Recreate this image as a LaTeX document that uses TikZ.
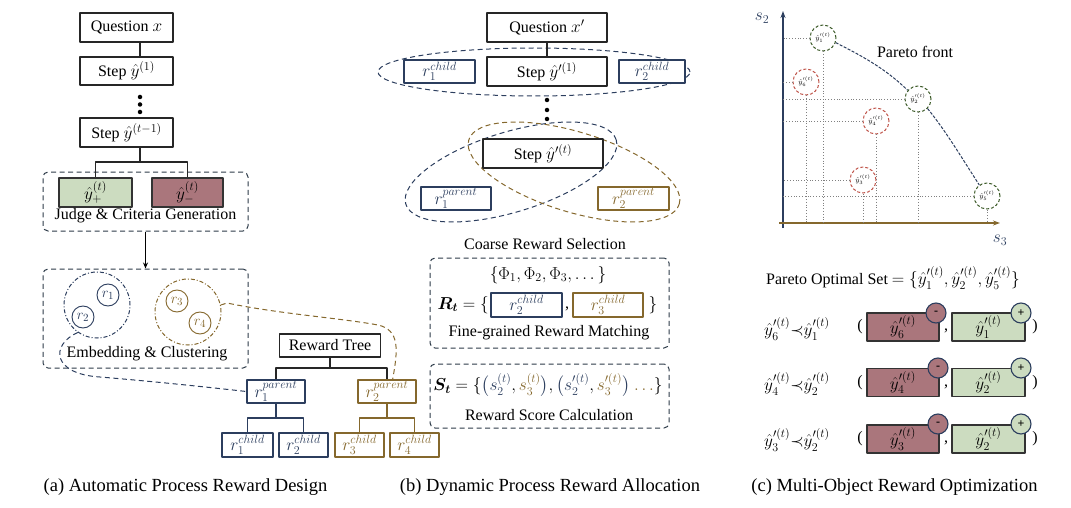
\documentclass[tikz,border=0pt]{standalone}
\usepackage{fontspec}
\setmainfont{Liberation Serif}
\usepackage{amsmath}
\usepackage{bm}
\DeclareMathSizes{16}{16.5}{13}{10}
\DeclareMathSizes{13}{13.5}{10.5}{8}
\DeclareMathSizes{7}{7}{5.5}{5}
\usetikzlibrary{arrows.meta}
\definecolor{navy}{RGB}{44,62,94}
\definecolor{brn}{RGB}{133,104,45}
\definecolor{gfill}{RGB}{204,220,192}
\definecolor{rfill}{RGB}{170,118,124}
\definecolor{dgreen}{RGB}{62,92,42}
\definecolor{dred}{RGB}{192,86,76}
\definecolor{slate}{RGB}{44,58,72}
\begin{document}
\begin{tikzpicture}[x=1pt,y=-1pt,line join=round,
  every node/.style={font=\fontsize{16}{19}\selectfont},
  wh/.style 2 args={minimum width=#1pt,minimum height=#2pt},
  bx/.style={draw=black!85,line width=1.2pt,inner sep=0pt,fill=white},
  nbx/.style={draw=navy,line width=1.1pt,inner sep=0pt,fill=white,text=navy},
  bbx/.style={draw=brn,line width=1.1pt,inner sep=0pt,fill=white,text=brn},
  gbx/.style={draw=black!80,line width=1.2pt,inner sep=0pt,fill=gfill},
  rbx/.style={draw=black!80,line width=1.2pt,inner sep=0pt,fill=rfill},
  dbox/.style={draw=slate,line width=1pt,rounded corners=5pt,dash pattern=on 5pt off 3.5pt,inner sep=0pt},
  dotn/.style={circle,fill=black,inner sep=0pt,minimum size=4.5pt},
  conn/.style={line width=1.2pt,draw=black!85},
  nconn/.style={line width=1.1pt,draw=navy},
  bconn/.style={line width=1.1pt,draw=brn},
  smalltxt/.style={font=\fontsize{13}{14}\selectfont},
  captxt/.style={font=\fontsize{18.5}{21}\selectfont},
  ptc/.style={circle,inner sep=0pt,minimum size=26pt,line width=1pt,dash pattern=on 3pt off 2pt,font=\fontsize{7}{7}\selectfont},
  guide/.style={draw=black!50,line width=0.8pt,dotted},
  sgn/.style={circle,draw=navy,line width=1.1pt,inner sep=0pt,minimum size=20pt,font=\bfseries\fontsize{12}{12}\selectfont}
]
\useasboundingbox (0,0) rectangle (1071,508);

% ================= panel (a) =================
\node[bx,wh={93}{29}] (qa) at (126.5,27.5) {Question $x$};
\node[bx,wh={93}{28}] (s1a) at (126.5,71) {Step $\hat{y}^{(1)}$};
\node[dotn] (da1) at (140,97) {};
\node[dotn] (da2) at (140,104.5) {};
\node[dotn] (da3) at (140,112) {};
\node[bx,wh={93}{29}] (s2a) at (126.5,132.5) {Step $\hat{y}^{(t-1)}$};
\draw[conn] (qa.south -| da1) -- (s1a.north -| da1);
\coordinate (bra) at (140,162);
\node[dbox,wh={205}{59}] (jb) at (145.5,201.5) {};
\node[gbx,wh={73}{29}] (gp) at (95.5,192.5) {$\hat{y}^{(t)}_{+}$};
\node[rbx,wh={71}{29}] (gm) at (187.5,192.5) {$\hat{y}^{(t)}_{-}$};
\draw[conn] (s2a.south -| bra) -- (bra);
\draw[conn] (bra) -| (gp.north);
\draw[conn] (bra) -| (gm.north);
\node (jt) at (145.5,216) {Judge \& Criteria Generation};

\node[dbox,wh={205}{99}] (eb) at (145.5,318.5) {};
\draw[line width=1.1pt,-{Stealth[length=6pt,width=5pt]}] (jb.south) -- (eb.north);
\node[circle,draw=navy,line width=1pt,dash pattern=on 4pt off 2pt on 1pt off 2pt,minimum size=66pt,inner sep=0pt] (bc) at (97,305) {};
\node[circle,draw=brn,line width=1pt,dash pattern=on 4pt off 2pt on 1pt off 2pt,minimum size=66pt,inner sep=0pt] (brc) at (188,312) {};
\node[circle,draw=navy,text=navy,line width=0.9pt,minimum size=22pt,inner sep=0pt,smalltxt] (r1) at (108,295) {$r_1$};
\node[circle,draw=navy,text=navy,line width=0.9pt,minimum size=22pt,inner sep=0pt,smalltxt] (r2) at (83,317) {$r_2$};
\node[circle,draw=brn,text=brn,line width=0.9pt,minimum size=22pt,inner sep=0pt,smalltxt] (r3) at (177,301) {$r_3$};
\node[circle,draw=brn,text=brn,line width=0.9pt,minimum size=22pt,inner sep=0pt,smalltxt] (r4) at (200,323) {$r_4$};
\node (et) at (147,354) {Embedding \& Clustering};

% reward tree
\node[bx,wh={101}{23}] (rt) at (330,345.5) {Reward Tree};
\node[nbx,wh={58}{23}] (r1p) at (276,391.5) {$r_1^{parent}$};
\node[bbx,wh={58}{23}] (r2p) at (387,391.5) {$r_2^{parent}$};
\node[nbx,wh={51}{24}] (r1c) at (247.5,445) {$r_1^{child}$};
\node[nbx,wh={49}{24}] (r2c) at (303.5,445) {$r_2^{child}$};
\node[bbx,wh={49}{24}] (r3c) at (359.5,445) {$r_3^{child}$};
\node[bbx,wh={49}{24}] (r4c) at (414.5,445) {$r_4^{child}$};
\coordinate (bar1) at (330,368);
\coordinate (bar2) at (276,418);
\coordinate (bar3) at (387,418);
\draw[conn] (rt.south) -- (bar1);
\draw[conn] (bar1) -| (r1p.north);
\draw[conn] (bar1) -| (r2p.north);
\draw[nconn] (r1p.south) -- (bar2);
\draw[nconn] (bar2) -| (r1c.north);
\draw[nconn] (bar2) -| (r2c.north);
\draw[bconn] (r2p.south) -- (bar3);
\draw[bconn] (bar3) -| (r3c.north);
\draw[bconn] (bar3) -| (r4c.north);

% cluster -> tree dashed links
\draw[navy,line width=1pt,dash pattern=on 5pt off 3.5pt] (bc.235) .. controls (50,345) and (52,374) .. (100,377) .. controls (160,382) and (215,388) .. (r1p.west);
\draw[brn,line width=1pt,dash pattern=on 5pt off 3.5pt] (brc.12) -- (227,303) .. controls (280,314) and (340,318) .. (378,325) .. controls (400,330) and (398,350) .. (r2p.65);

% ================= panel (b) =================
\draw[navy,line width=1pt,dash pattern=on 5pt off 3.5pt] (534,72) ellipse [x radius=156pt,y radius=24pt];
\draw[navy,line width=1pt,dash pattern=on 5pt off 3.5pt,rotate around={17:(511,172)}] (511,172) ellipse [x radius=110pt,y radius=40pt];
\draw[brn,line width=1pt,dash pattern=on 5pt off 3.5pt,rotate around={-17:(574,172)}] (574,172) ellipse [x radius=110pt,y radius=40pt];
\node[bx,wh={120}{29}] (qb) at (547,27.5) {Question $x'$};
\node[bx,wh={120}{29}] (s1b) at (547,71.5) {Step $\hat{y}'^{(1)}$};
\node[nbx,wh={71}{23}] (r1cb) at (439.5,71.5) {$r_1^{child}$};
\node[nbx,wh={66}{23}] (r2cb) at (652,71.5) {$r_2^{child}$};
\draw[conn] (qb) -- (s1b);
\node[dotn] (db1) at (547,100) {};
\node[dotn] (db2) at (547,110) {};
\node[dotn] (db3) at (547,119) {};
\node[bx,wh={120}{29}] (s2b) at (543,153.5) {Step $\hat{y}'^{(t)}$};
\node[nbx,wh={70}{23}] (r1pb) at (456,198.5) {$r_1^{parent}$};
\node[bbx,wh={71}{23}] (r2pb) at (633.5,198.5) {$r_2^{parent}$};
\node (crs) at (545,244) {Coarse Reward Selection};

\node[dbox,wh={239}{90}] (fb) at (549.5,303) {};
\node (phi) at (548,275) {$\{\Phi_1,\Phi_2,\Phi_3,\dots\}$};
\node[anchor=east,inner sep=0pt] (rt2) at (489,305) {$\bm{R_t}=\{$};
\node[nbx,wh={71}{24}] (r2cf) at (526.5,305) {$r_2^{child}$};
\node[inner sep=0pt] (cm1) at (567,309) {,};
\node[bbx,wh={70}{24}] (r3cf) at (608,305) {$r_3^{child}$};
\node[inner sep=0pt] (cb1) at (653,305) {$\}$};
\node (frm) at (549,333) {Fine-grained Reward Matching};

\node[dbox,wh={239}{64}] (sb) at (549.5,396) {};
\node (st) at (548,385) {$\bm{S_t}=\{\textcolor{navy}{\big(}\textcolor{navy}{s_2^{(t)}},\textcolor{brn}{s_3^{(t)}}\textcolor{navy}{\big)},\textcolor{navy}{\big(}\textcolor{navy}{s_2'^{(t)}},\textcolor{brn}{s_3'^{(t)}}\textcolor{navy}{\big)}\ \textcolor{brn}{\dots}\}$};
\node (rsc) at (549,415) {Reward Score Calculation};

% ================= panel (c) =================
\coordinate (yax) at (783,0);
\coordinate (xax) at (0,223);
\draw[navy,line width=1.3pt,-{Stealth[length=7pt,width=5pt]}] (783,228) -- (783,11);
\draw[brn,line width=1.3pt,-{Stealth[length=7pt,width=5pt]}] (779,223) -- (1000,223);
\node[navy] (s2l) at (762,18) {$s_2$};
\node[navy] (s3l) at (1000,240) {$s_3$};

\node[ptc,draw=dgreen] (p1) at (823,38) {$\hat{y}'^{(t)}_1$};
\node[ptc,draw=dred] (p6) at (806,82) {$\hat{y}'^{(t)}_6$};
\node[ptc,draw=dgreen] (p2) at (918,99) {$\hat{y}'^{(t)}_2$};
\node[ptc,draw=dred] (p4) at (876,121) {$\hat{y}'^{(t)}_4$};
\node[ptc,draw=dred] (p3) at (863,180) {$\hat{y}'^{(t)}_3$};
\node[ptc,draw=dgreen] (p5) at (987,196) {$\hat{y}'^{(t)}_5$};
\foreach \p in {p1,p6,p2,p4,p3,p5}{
  \draw[guide] (\p.west) -- (\p.west -| yax);
  \draw[guide] (\p.south) -- (\p.south |- xax);
}
\draw[navy,line width=1pt,dash pattern=on 3pt off 1.5pt] (p1.-20) .. controls (860,55) and (885,68) .. (p2.140);
\draw[navy,line width=1pt,dash pattern=on 3pt off 1.5pt] (p2.-45) .. controls (945,130) and (960,155) .. (p5.125);
\node (pf) at (915,52) {Pareto front};

\node (pos) at (893,278) {Pareto Optimal Set $=\{\hat{y}'^{(t)}_1,\hat{y}'^{(t)}_2,\hat{y}'^{(t)}_5\}$};

% rows
\node (l1) at (797,329) {$\hat{y}'^{(t)}_6{\prec}\hat{y}'^{(t)}_1$};
\node (o1) at (860,327) {(};
\node[rbx,wh={72}{28}] (n1) at (903,327) {$\hat{y}'^{(t)}_6$};
\node (c1) at (946,331) {,};
\node[gbx,wh={73}{28}] (g1) at (988.5,327) {$\hat{y}'^{(t)}_1$};
\node (e1) at (1035,327) {)};
\node[sgn,fill=rfill] (m1) at (936,313) {-};
\node[sgn,fill=gfill] (pl1) at (1021,313) {+};

\node (l2) at (797,384) {$\hat{y}'^{(t)}_4{\prec}\hat{y}'^{(t)}_2$};
\node (o2) at (860,382.5) {(};
\node[rbx,wh={72}{28}] (n2) at (903,382.5) {$\hat{y}'^{(t)}_4$};
\node (c2) at (946,386.5) {,};
\node[gbx,wh={73}{28}] (g2) at (988.5,382.5) {$\hat{y}'^{(t)}_2$};
\node (e2) at (1035,382.5) {)};
\node[sgn,fill=rfill] (m2) at (938,368) {-};
\node[sgn,fill=gfill] (pl2) at (1021,368) {+};

\node (l3) at (797,440) {$\hat{y}'^{(t)}_3{\prec}\hat{y}'^{(t)}_2$};
\node (o3) at (860,439) {(};
\node[rbx,wh={72}{28}] (n3) at (903,439) {$\hat{y}'^{(t)}_3$};
\node (c3) at (946,443) {,};
\node[gbx,wh={73}{28}] (g3) at (988.5,439) {$\hat{y}'^{(t)}_2$};
\node (e3) at (1035,439) {)};
\node[sgn,fill=rfill] (m3) at (938,424) {-};
\node[sgn,fill=gfill] (pl3) at (1021,424) {+};

% captions
\node[captxt] (ca) at (185.5,487) {(a) Automatic Process Reward Design};
\node[captxt] (cb) at (550,487) {(b) Dynamic Process Reward Allocation};
\node[captxt] (cc) at (894.5,487) {(c) Multi-Object Reward Optimization};
\end{tikzpicture}
\end{document}
